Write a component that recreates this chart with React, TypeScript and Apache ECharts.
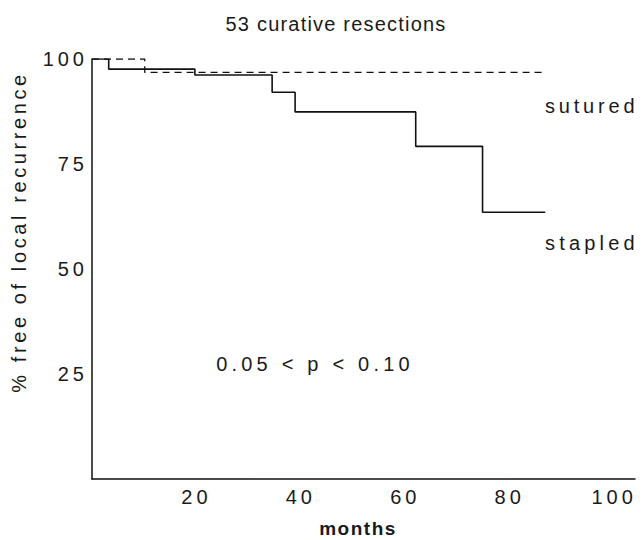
import React, { useEffect, useRef } from "react";
import * as echarts from "echarts";

// months at which each curve steps, and % free of local recurrence
const stapledMonths = [0, 3.2, 19.7, 34.5, 38.9, 62, 74.8, 86.8];
const stapledValues = [100, 97.6, 96.2, 92.1, 87.4, 79.2, 63.5, 63.5];
const suturedMonths = [0, 10.1, 87];
const suturedValues = [100, 96.8, 96.8];
const xTicks = [20, 40, 60, 80, 100];
const yTicks = [25, 50, 75, 100];

const FONT = "'Liberation Sans', Arial, Helvetica, sans-serif";

// letter spacing (px) applied to the rendered svg texts
const SPACING: Record<string, number> = {
  "53 curative resections": 1.2,
  "sutured": 3.8,
  "stapled": 4.2,
  "0.05 < p < 0.10": 4.2,
  "% free of local recurrence": 3.6,
  "months": 1.5,
  "20": 4,
  "40": 4,
  "60": 4,
  "80": 4,
  "100": 4,
  "25": 4,
  "50": 4,
  "75": 4,
};

export default function App() {
  const ref = useRef<HTMLDivElement>(null);
  useEffect(() => {
    if (!ref.current) return;
    const el = ref.current;
    const chart = echarts.init(el, null, { renderer: "svg" });
    const stapled = stapledMonths.map((m, i) => [m, stapledValues[i]]);
    const sutured = suturedMonths.map((m, i) => [m, suturedValues[i]]);
    const apply = () => {
      el.querySelectorAll("text").forEach((t) => {
        const s = SPACING[(t.textContent || "").trim()];
        if (s != null) t.setAttribute("letter-spacing", String(s));
      });
    };
    chart.on("finished", apply);
    chart.setOption({
      animation: false,
      backgroundColor: "#ffffff",
      title: {
        text: "53 curative resections",
        left: 331,
        top: 9,
        textAlign: "center",
        textStyle: { fontFamily: FONT, fontSize: 20, fontWeight: "normal", color: "#1a1a1a" },
      },
      grid: { left: 92, top: 59, right: 7, bottom: 61, containLabel: false },
      xAxis: {
        type: "value",
        min: 0,
        max: 104,
        interval: 20,
        axisLine: { show: true, lineStyle: { color: "#111", width: 1.5 } },
        axisTick: { show: false },
        splitLine: { show: false },
        axisLabel: {
          fontFamily: FONT,
          fontSize: 20,
          color: "#1a1a1a",
          margin: 8,
          formatter: (v: number) => (xTicks.includes(v) ? String(v) : ""),
        },
      },
      yAxis: {
        type: "value",
        min: 0,
        max: 100,
        interval: 25,
        axisLine: { show: true, lineStyle: { color: "#111", width: 1.5 } },
        axisTick: { show: false },
        splitLine: { show: false },
        axisLabel: {
          fontFamily: FONT,
          fontSize: 20,
          color: "#1a1a1a",
          margin: 4,
          formatter: (v: number) => (yTicks.includes(v) ? String(v) : ""),
        },
      },
      graphic: [
        {
          type: "text",
          x: 19,
          y: 232,
          rotation: Math.PI / 2,
          style: {
            text: "% free of local recurrence",
            fontFamily: FONT,
            fontSize: 20,
            fill: "#1a1a1a",
            textAlign: "center",
            textVerticalAlign: "middle",
          },
        },
        {
          type: "text",
          x: 545,
          y: 106,
          style: {
            text: "sutured",
            fontFamily: FONT,
            fontSize: 20,
            fill: "#1a1a1a",
            textAlign: "left",
            textVerticalAlign: "middle",
          },
        },
        {
          type: "text",
          x: 545,
          y: 243,
          style: {
            text: "stapled",
            fontFamily: FONT,
            fontSize: 20,
            fill: "#1a1a1a",
            textAlign: "left",
            textVerticalAlign: "middle",
          },
        },
        {
          type: "text",
          x: 315,
          y: 364,
          style: {
            text: "0.05 < p < 0.10",
            fontFamily: FONT,
            fontSize: 20,
            fill: "#1a1a1a",
            textAlign: "center",
            textVerticalAlign: "middle",
          },
        },
        {
          type: "text",
          x: 358,
          y: 528,
          style: {
            text: "months",
            fontFamily: FONT,
            fontSize: 19,
            fontWeight: "bold",
            fill: "#1a1a1a",
            textAlign: "center",
            textVerticalAlign: "middle",
          },
        },
      ],
      series: [
        {
          name: "stapled",
          type: "line",
          step: "end",
          data: stapled,
          showSymbol: false,
          symbol: "none",
          lineStyle: { color: "#111", width: 1.6, type: "solid" },
        },
        {
          name: "sutured",
          type: "line",
          step: "end",
          data: sutured,
          showSymbol: false,
          symbol: "none",
          lineStyle: { color: "#111", width: 1.3, type: [7, 5] },
        },
      ],
    });
    apply();
    return () => chart.dispose();
  }, []);
  return (
    <div
      ref={ref}
      style={{ position: "fixed", left: 0, top: 0, width: 642, height: 540, background: "#fff" }}
    />
  );
}
